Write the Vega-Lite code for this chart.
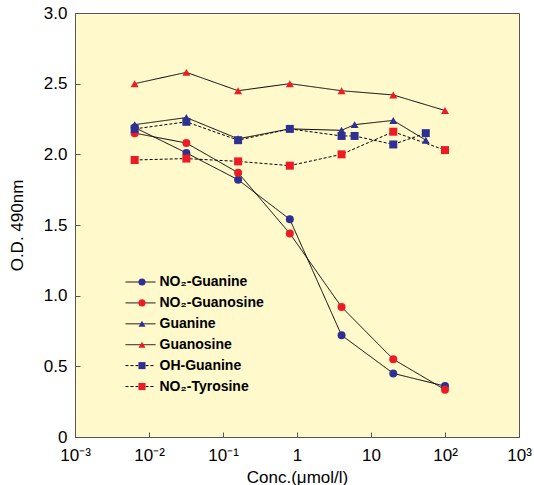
{
  "$schema": "https://vega.github.io/schema/vega-lite/v6.json",
  "width": 444,
  "height": 424,
  "autosize": {"type": "none"},
  "padding": {"left": 75, "top": 13, "right": 15, "bottom": 48},
  "background": "white",
  "config": {
    "view": {"fill": "#FFF9CC", "stroke": "#555555", "strokeWidth": 1},
    "font": "Liberation Sans",
    "axis": {
      "grid": false,
      "domainColor": "#555555",
      "tickColor": "#555555",
      "labelColor": "black",
      "titleColor": "black",
      "labelFont": "Liberation Sans",
      "titleFont": "Liberation Sans",
      "labelFontSize": 17,
      "titleFontSize": 17,
      "titleFontWeight": "normal",
      "tickSize": -5,
      "labelFlush": false,
      "labelOverlap": false
    }
  },
  "data": {
    "values": [
      {"series": "NO₂-Guanine", "conc": 0.0064, "od": 2.19},
      {"series": "NO₂-Guanine", "conc": 0.032, "od": 2.01},
      {"series": "NO₂-Guanine", "conc": 0.16, "od": 1.82},
      {"series": "NO₂-Guanine", "conc": 0.8, "od": 1.54},
      {"series": "NO₂-Guanine", "conc": 4, "od": 0.72},
      {"series": "NO₂-Guanine", "conc": 20, "od": 0.45},
      {"series": "NO₂-Guanine", "conc": 100, "od": 0.36},
      {"series": "NO₂-Guanosine", "conc": 0.0064, "od": 2.15},
      {"series": "NO₂-Guanosine", "conc": 0.032, "od": 2.08},
      {"series": "NO₂-Guanosine", "conc": 0.16, "od": 1.87},
      {"series": "NO₂-Guanosine", "conc": 0.8, "od": 1.44},
      {"series": "NO₂-Guanosine", "conc": 4, "od": 0.92},
      {"series": "NO₂-Guanosine", "conc": 20, "od": 0.55},
      {"series": "NO₂-Guanosine", "conc": 100, "od": 0.335},
      {"series": "Guanine", "conc": 0.0064, "od": 2.21},
      {"series": "Guanine", "conc": 0.032, "od": 2.26},
      {"series": "Guanine", "conc": 0.16, "od": 2.11},
      {"series": "Guanine", "conc": 0.8, "od": 2.18},
      {"series": "Guanine", "conc": 4, "od": 2.17},
      {"series": "Guanine", "conc": 6, "od": 2.21},
      {"series": "Guanine", "conc": 20, "od": 2.24},
      {"series": "Guanine", "conc": 55, "od": 2.10},
      {"series": "Guanosine", "conc": 0.0064, "od": 2.50},
      {"series": "Guanosine", "conc": 0.032, "od": 2.58},
      {"series": "Guanosine", "conc": 0.16, "od": 2.45},
      {"series": "Guanosine", "conc": 0.8, "od": 2.50},
      {"series": "Guanosine", "conc": 4, "od": 2.45},
      {"series": "Guanosine", "conc": 20, "od": 2.42},
      {"series": "Guanosine", "conc": 100, "od": 2.31},
      {"series": "OH-Guanine", "conc": 0.0064, "od": 2.18},
      {"series": "OH-Guanine", "conc": 0.032, "od": 2.23},
      {"series": "OH-Guanine", "conc": 0.16, "od": 2.10},
      {"series": "OH-Guanine", "conc": 0.8, "od": 2.18},
      {"series": "OH-Guanine", "conc": 4, "od": 2.13},
      {"series": "OH-Guanine", "conc": 6, "od": 2.13},
      {"series": "OH-Guanine", "conc": 20, "od": 2.07},
      {"series": "OH-Guanine", "conc": 55, "od": 2.15},
      {"series": "NO₂-Tyrosine", "conc": 0.0064, "od": 1.96},
      {"series": "NO₂-Tyrosine", "conc": 0.032, "od": 1.97},
      {"series": "NO₂-Tyrosine", "conc": 0.16, "od": 1.95},
      {"series": "NO₂-Tyrosine", "conc": 0.8, "od": 1.92},
      {"series": "NO₂-Tyrosine", "conc": 4, "od": 2.00},
      {"series": "NO₂-Tyrosine", "conc": 20, "od": 2.16},
      {"series": "NO₂-Tyrosine", "conc": 100, "od": 2.03}
    ]
  },
  "layer": [
    {
      "mark": {"type": "line", "color": "black", "strokeWidth": 1},
      "encoding": {
        "x": {
          "field": "conc", "type": "quantitative",
          "scale": {"type": "log", "domain": [0.001, 1000]},
          "title": "Conc.(μmol/l)",
          "axis": {
            "values": [0.001, 0.01, 0.1, 1, 10, 100, 1000],
            "labelExpr": "datum.value < 0.005 ? '10⁻³' : datum.value < 0.05 ? '10⁻²' : datum.value < 0.5 ? '10⁻¹' : datum.value < 5 ? '1' : datum.value < 50 ? '10' : datum.value < 500 ? '10²' : '10³'",
            "labelPadding": 15,
            "titlePadding": 6
          }
        },
        "y": {
          "field": "od", "type": "quantitative",
          "scale": {"domain": [0, 3]},
          "title": "O.D. 490nm",
          "axis": {
            "values": [0, 0.5, 1, 1.5, 2, 2.5, 3],
            "labelExpr": "datum.value == 0 ? '0' : format(datum.value, '.1f')",
            "labelPadding": 13,
            "titlePadding": 17
          }
        },
        "strokeDash": {
          "field": "series", "type": "nominal",
          "sort": ["NO₂-Guanine", "NO₂-Guanosine", "Guanine", "Guanosine", "OH-Guanine", "NO₂-Tyrosine"],
          "scale": {
            "range": [[1, 0], [1, 0], [1, 0], [1, 0], [3, 2], [3, 2]]
          },
          "legend": {
            "orient": "none", "legendX": 58.5, "legendY": 262, "title": null,
            "padding": 0,
            "symbolType": "M-3,0H3", "symbolSize": 100,
            "symbolStrokeColor": "black", "symbolStrokeWidth": 1,
            "symbolFillColor": "transparent",
            "labelFont": "Liberation Sans", "labelFontSize": 14, "labelFontWeight": "bold",
            "labelColor": "black", "labelOffset": 12, "rowPadding": 6.9
          }
        }
      }
    },
    {
      "mark": {"type": "point", "filled": true, "opacity": 1, "size": 64},
      "encoding": {
        "x": {"field": "conc", "type": "quantitative"},
        "y": {"field": "od", "type": "quantitative"},
        "color": {
          "field": "series", "type": "nominal",
          "scale": {
            "domain": ["NO₂-Guanine", "NO₂-Guanosine", "Guanine", "Guanosine", "OH-Guanine", "NO₂-Tyrosine"],
            "range": ["#2E3192", "#ED1C24", "#2E3192", "#ED1C24", "#2E3192", "#ED1C24"]
          },
          "legend": {
            "orient": "none", "legendX": 60, "legendY": 262, "title": null,
            "padding": 0, "symbolSize": 50, "symbolStrokeWidth": 0,
            "labelFont": "Liberation Sans", "labelFontSize": 14, "labelFontWeight": "bold",
            "labelExpr": "''", "rowPadding": 6.9
          }
        },
        "shape": {
          "field": "series", "type": "nominal",
          "scale": {
            "domain": ["NO₂-Guanine", "NO₂-Guanosine", "Guanine", "Guanosine", "OH-Guanine", "NO₂-Tyrosine"],
            "range": ["circle", "circle", "triangle-up", "triangle-up", "square", "square"]
          },
          "legend": {
            "orient": "none", "legendX": 60, "legendY": 262, "title": null,
            "padding": 0, "symbolSize": 50, "symbolStrokeWidth": 0,
            "labelFont": "Liberation Sans", "labelFontSize": 14, "labelFontWeight": "bold",
            "labelExpr": "''", "rowPadding": 6.9
          }
        }
      }
    }
  ]
}
